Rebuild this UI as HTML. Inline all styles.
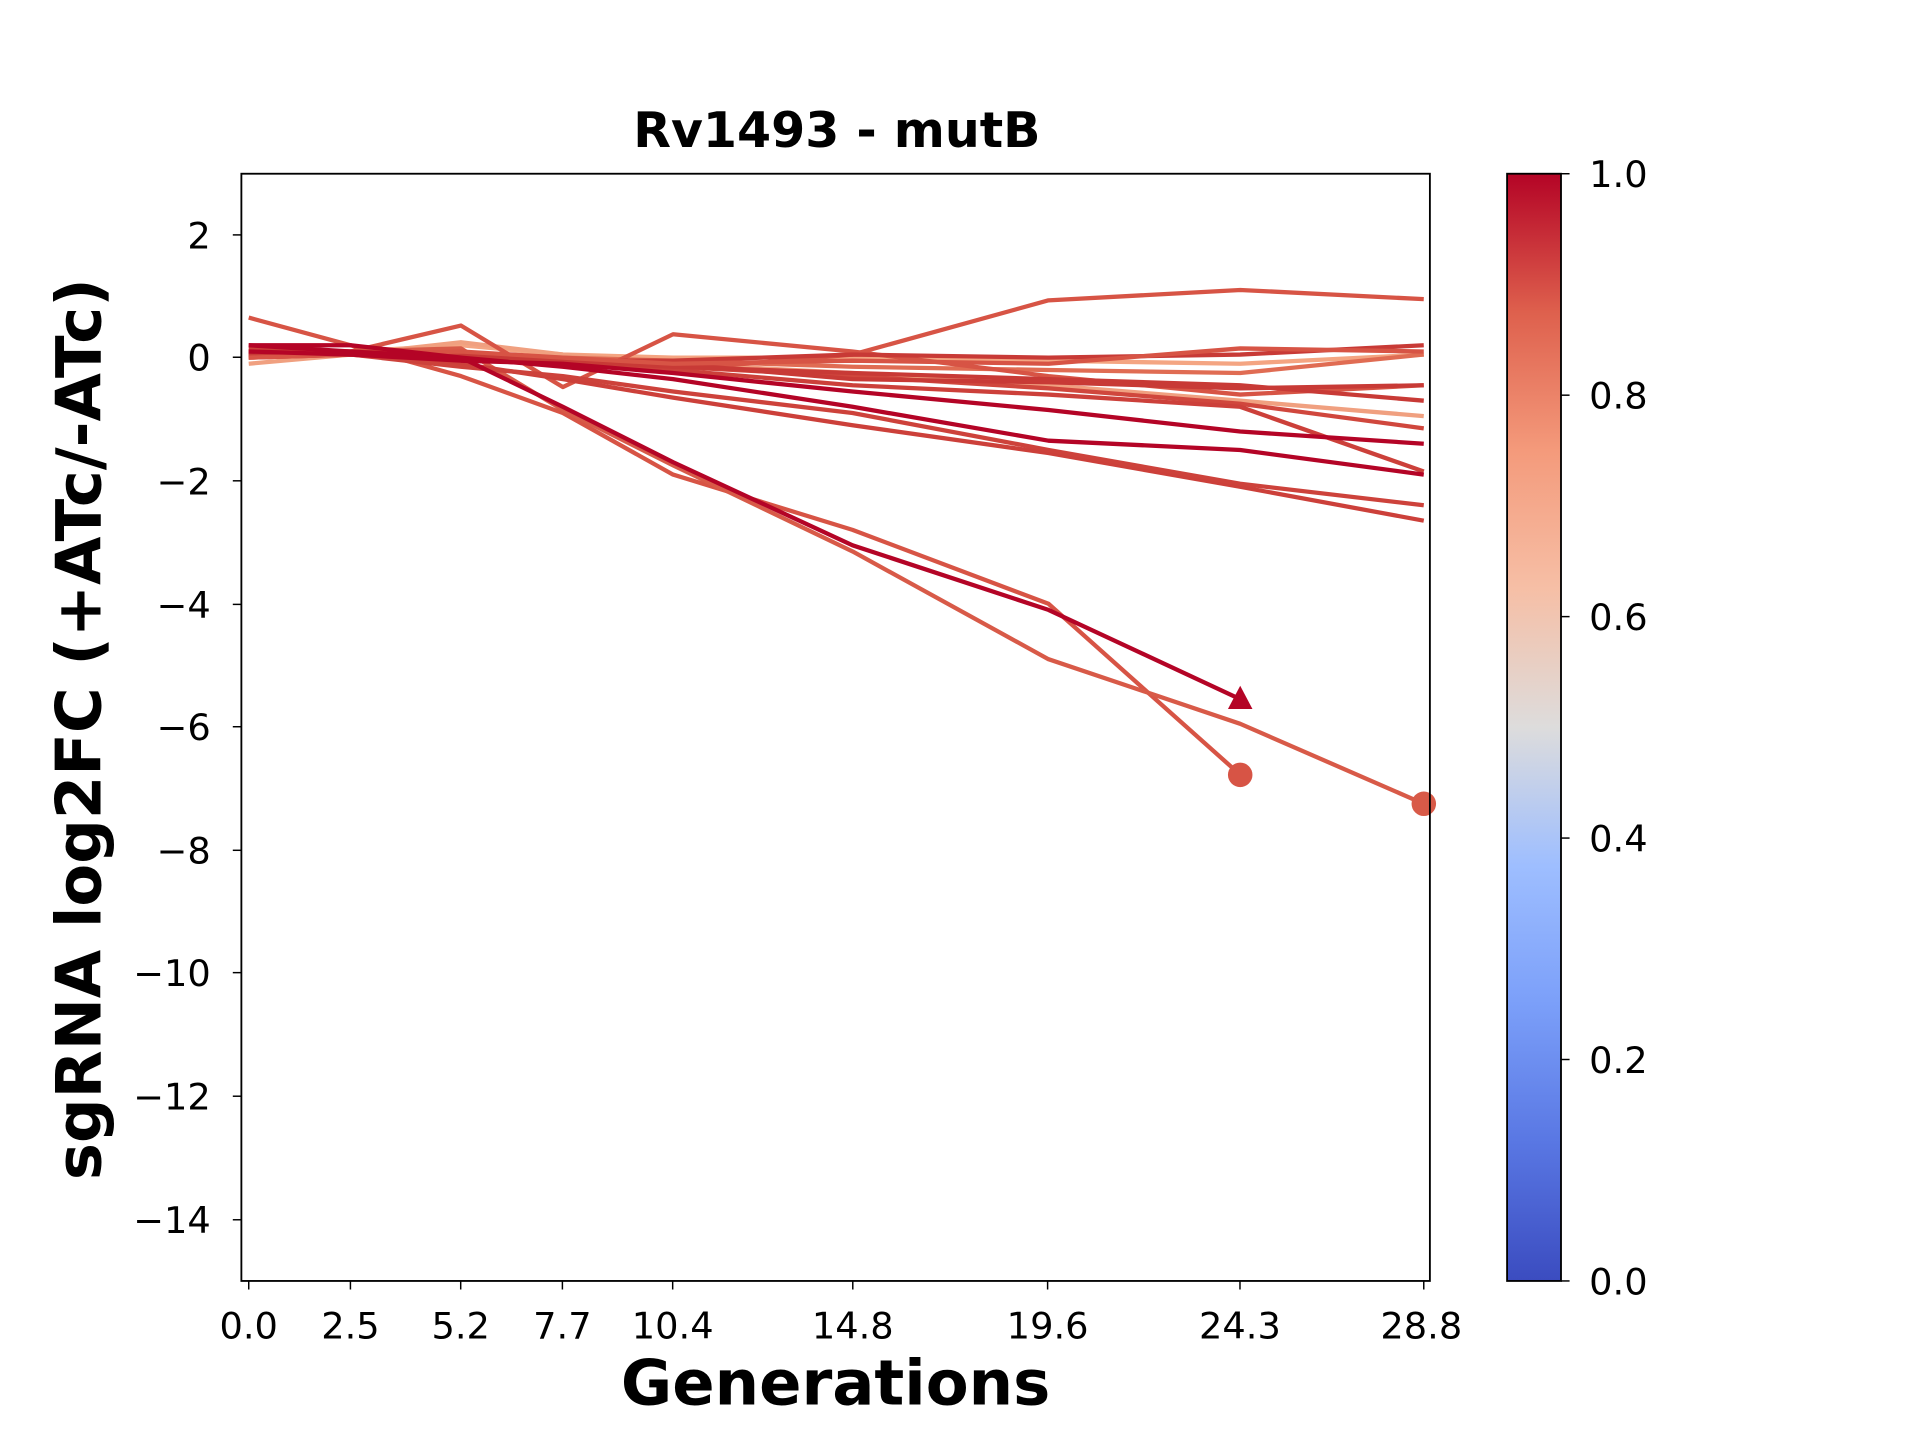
<!DOCTYPE html>
<html><head><meta charset="utf-8"><style>
html,body{margin:0;padding:0;background:#fff;width:1920px;height:1440px;overflow:hidden}
svg{display:block}
text{font-family:"DejaVu Sans","Liberation Sans",sans-serif;fill:#000}
</style></head><body>
<svg id="s" width="1920" height="1440" viewBox="0 0 1567 1177" preserveAspectRatio="none">
<defs><linearGradient id="cw" x1="0" y1="1" x2="0" y2="0">
<stop offset="0" stop-color="#3b4cc0"/><stop offset="0.125" stop-color="#5977e3"/><stop offset="0.25" stop-color="#7b9ff9"/><stop offset="0.375" stop-color="#9ebeff"/><stop offset="0.5" stop-color="#dddcdc"/><stop offset="0.625" stop-color="#f6bfa6"/><stop offset="0.75" stop-color="#f49a7b"/><stop offset="0.875" stop-color="#de604d"/><stop offset="1" stop-color="#b40426"/>
</linearGradient></defs>
<text x="683" y="120" font-size="40" font-weight="bold" text-anchor="middle">Rv1493 - mutB</text>
<g id="lines"></g>
<rect x="197" y="142" width="970" height="905" fill="none" stroke="#000" stroke-width="1.5"/>
<g font-size="30" text-anchor="end" id="yt">
<text x="172" y="203">2</text><text x="172" y="303">0</text><text x="172" y="404">−2</text><text x="172" y="505">−4</text><text x="172" y="605">−6</text><text x="172" y="706">−8</text><text x="172" y="806">−10</text><text x="172" y="907">−12</text><text x="172" y="1008">−14</text>
</g>
<g stroke="#000" stroke-width="1.2">
<line x1="190" x2="197" y1="192" y2="192"/><line x1="190" x2="197" y1="292" y2="292"/><line x1="190" x2="197" y1="393" y2="393"/><line x1="190" x2="197" y1="494" y2="494"/><line x1="190" x2="197" y1="594" y2="594"/><line x1="190" x2="197" y1="695" y2="695"/><line x1="190" x2="197" y1="795" y2="795"/><line x1="190" x2="197" y1="896" y2="896"/><line x1="190" x2="197" y1="997" y2="997"/>
<line x1="203" x2="203" y1="1047" y2="1054"/><line x1="286" x2="286" y1="1047" y2="1054"/><line x1="376" x2="376" y1="1047" y2="1054"/><line x1="459" x2="459" y1="1047" y2="1054"/><line x1="549" x2="549" y1="1047" y2="1054"/><line x1="696" x2="696" y1="1047" y2="1054"/><line x1="855" x2="855" y1="1047" y2="1054"/><line x1="1012" x2="1012" y1="1047" y2="1054"/><line x1="1162" x2="1162" y1="1047" y2="1054"/>
</g>
<g font-size="30" text-anchor="middle">
<text x="203" y="1094">0.0</text><text x="286" y="1094">2.5</text><text x="376" y="1094">5.2</text><text x="459" y="1094">7.7</text><text x="549" y="1094">10.4</text><text x="696" y="1094">14.8</text><text x="855" y="1094">19.6</text><text x="1012" y="1094">24.3</text><text x="1160" y="1094">28.8</text>
</g>
<text x="682" y="1148" font-size="51" font-weight="bold" text-anchor="middle">Generations</text>
<text transform="translate(82,596) rotate(-90)" font-size="51" font-weight="bold" text-anchor="middle">sgRNA log2FC (+ATc/-ATc)</text>
<rect x="1230" y="142" width="44" height="905" fill="url(#cw)" stroke="#000" stroke-width="1.5"/>
<g stroke="#000" stroke-width="1.2">
<line x1="1274" x2="1281" y1="142" y2="142"/><line x1="1274" x2="1281" y1="323" y2="323"/><line x1="1274" x2="1281" y1="504" y2="504"/><line x1="1274" x2="1281" y1="685" y2="685"/><line x1="1274" x2="1281" y1="866" y2="866"/><line x1="1274" x2="1281" y1="1047" y2="1047"/>
</g>
<g font-size="30">
<text x="1297" y="153">1.0</text><text x="1297" y="334">0.8</text><text x="1297" y="515">0.6</text><text x="1297" y="696">0.4</text><text x="1297" y="877">0.2</text><text x="1297" y="1058">0.0</text>
</g>
</svg>
<script>
var G=[0,2.5,5.2,7.7,10.4,14.8,19.6,24.3,28.8];
function X(g){return 203+g*33.3;}function Y(v){return 292.3-v*50.3;}
var D=[
["#f4a582",[0.05,0.1,0.2,0.05,0,0,-0.05,-0.1,0.05]],
["#f0a080",[-0.1,0.05,0.25,0.05,-0.1,-0.25,-0.45,-0.7,-0.95]],
["#e06c53",[0,0.05,0.05,0,-0.05,-0.15,-0.2,-0.25,0.05]],
["#d75445",[0.1,0.05,0,-0.1,-0.2,0.05,0.93,1.1,0.95]],
["#d75445",[0.05,0.1,0.52,-0.48,0.38,0.1,-0.3,-0.6,-0.45]],
["#d75445",[0.65,0.2,-0.3,-0.9,-1.9,-2.8,-4.0,-6.78],"c"],
["#d85a48",[0.1,0.1,0.15,-0.85,-1.75,-3.15,-4.9,-5.95,-7.25],"c"],
["#cc403a",[0,0.05,-0.1,-0.35,-0.65,-1.1,-1.55,-2.1,-2.65]],
["#cd423b",[0.1,0.05,-0.15,-0.3,-0.55,-0.9,-1.5,-2.05,-2.4]],
["#d0473d",[0.05,0.05,0,-0.1,-0.15,-0.3,-0.5,-0.75,-1.15]],
["#cc403a",[0.15,0.1,0,-0.1,-0.2,-0.45,-0.6,-0.8,-1.85]],
["#c83a36",[0.1,0.1,0.05,-0.05,-0.15,-0.25,-0.35,-0.45,-0.7]],
["#c83a36",[0.05,0.05,0,-0.05,-0.1,-0.35,-0.4,-0.5,-0.45]],
["#c83a36",[0.1,0.05,0,-0.05,-0.05,0.05,0,0.05,0.2]],
["#d75445",[0,0.05,0.1,0,-0.1,-0.05,-0.1,0.15,0.1]],
["#b40426",[0.2,0.1,0,-0.15,-0.35,-0.8,-1.35,-1.5,-1.9]],
["#b40426",[0.1,0.05,-0.05,-0.1,-0.25,-0.55,-0.85,-1.2,-1.4]],
["#b40426",[0.2,0.2,0,-0.8,-1.7,-3.05,-4.1,-5.55],"t"]
];
var h="";
D.forEach(function(d){var p=d[1].map(function(v,i){return X(G[i]).toFixed(1)+","+Y(v).toFixed(1);}).join(" ");
h+='<polyline points="'+p+'" fill="none" stroke="'+d[0]+'" stroke-width="3.5" stroke-linejoin="round"/>';
var n=d[1].length-1,x=X(G[n]),y=Y(d[1][n]);
if(d[2]=="c")h+='<circle cx="'+x+'" cy="'+y+'" r="10" fill="'+d[0]+'"/>';
if(d[2]=="t")h+='<polygon points="'+x+','+(y-11)+' '+(x-10)+','+(y+8)+' '+(x+10)+','+(y+8)+'" fill="'+d[0]+'"/>';});
document.getElementById("lines").innerHTML=h;
</script>
</body></html>
